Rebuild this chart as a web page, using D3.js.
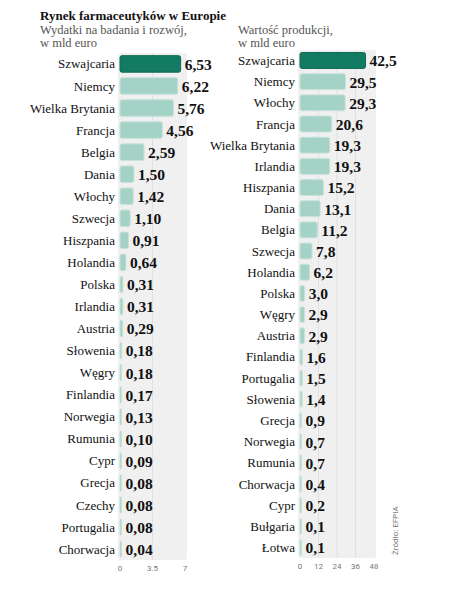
<!DOCTYPE html>
<html><head><meta charset="utf-8">
<script src="https://cdn.jsdelivr.net/npm/d3@7"></script>
<style>body{margin:0;background:#fff}</style>
</head><body><svg id="c" width="450" height="600"></svg>
<script>
const leftNames = ["Szwajcaria","Niemcy","Wielka Brytania","Francja","Belgia","Dania","Włochy","Szwecja","Hiszpania","Holandia","Polska","Irlandia","Austria","Słowenia","Węgry","Finlandia","Norwegia","Rumunia","Cypr","Grecja","Czechy","Portugalia","Chorwacja"];
const leftValues = [6.53,6.22,5.76,4.56,2.59,1.50,1.42,1.10,0.91,0.64,0.31,0.31,0.29,0.18,0.18,0.17,0.13,0.10,0.09,0.08,0.08,0.08,0.04];
const leftTicks = [0,3.5,7];
const rightNames = ["Szwajcaria","Niemcy","Włochy","Francja","Wielka Brytania","Irlandia","Hiszpania","Dania","Belgia","Szwecja","Holandia","Polska","Węgry","Austria","Finlandia","Portugalia","Słowenia","Grecja","Norwegia","Rumunia","Chorwacja","Cypr","Bułgaria","Łotwa"];
const rightValues = [42.5,29.5,29.3,20.6,19.3,19.3,15.2,13.1,11.2,7.8,6.2,3.0,2.9,2.9,1.6,1.5,1.4,0.9,0.7,0.7,0.4,0.2,0.1,0.1];
const rightTicks = [0,12,24,36,48];

const svg = d3.select("#c");
const fmt = (v, d) => v.toFixed(d).replace(".", ",");

svg.append("text").attr("x",40).attr("y",20).attr("font-family","Liberation Sans Narrow").attr("font-weight","bold")
  .attr("font-size",13).attr("fill","#111").text("Rynek farmaceutyków w Europie");

function panel(names, values, ticks, x0, x1, yTop, yBot, dec, sub) {
  const g = svg.append("g");
  const x = d3.scaleLinear().domain([0, ticks[ticks.length-1]]).range([x0, x1]);
  const y = d3.scaleBand().domain(names).range([yTop, yBot]).paddingInner(0.25).paddingOuter(0.12);
  g.append("rect").attr("x",x0-2).attr("y",yTop).attr("width",x1-x0+4).attr("height",yBot-yTop)
    .attr("rx",3).attr("fill","#f0f0f0");
  ticks.slice(1,-1).forEach(t => g.append("line").attr("x1",x(t)).attr("x2",x(t))
    .attr("y1",yTop).attr("y2",yBot).attr("stroke","#e0e0e0"));
  g.selectAll("rect.bar").data(names).join("rect").attr("class","bar")
    .attr("x",x0).attr("y",d=>y(d)).attr("height",y.bandwidth())
    .attr("width",(d,i)=>Math.max(1.5,x(values[i])-x0)).attr("rx",2)
    .attr("fill",(d,i)=>i===0?"#137a63":"#a5d2c6").attr("stroke",(d,i)=>i===0?"#0e6a55":"#c7e2da");
  g.selectAll("text.lab").data(names).join("text").attr("class","lab")
    .attr("x",x0-5).attr("y",d=>y(d)+y.bandwidth()/2).attr("dy","0.35em").attr("text-anchor","end")
    .attr("font-family","Liberation Sans Narrow").attr("font-size",13).attr("fill","#111").text(d=>d);
  g.selectAll("text.val").data(names).join("text").attr("class","val")
    .attr("x",(d,i)=>Math.max(x0+1.5,x(values[i]))+4).attr("y",d=>y(d)+y.bandwidth()/2).attr("dy","0.38em")
    .attr("font-family","Liberation Sans Narrow").attr("font-weight","bold").attr("font-size",15.5).attr("fill","#111")
    .text((d,i)=>fmt(values[i],dec));
  g.selectAll("text.tick").data(ticks).join("text").attr("class","tick")
    .attr("x",d=>x(d)).attr("y",yBot+11).attr("text-anchor","middle")
    .attr("font-family","Roboto").attr("font-size",8).attr("fill","#777").text(d=>String(d));
  sub.forEach((s,i)=>svg.append("text").attr("x",sub.x).attr("y",34+i*13)
    .attr("font-family","Liberation Sans Narrow").attr("font-size",12.5).attr("fill","#555").text(s));
}
const s1 = ["Wydatki na badania i rozwój,","w mld euro"]; s1.x = 40;
const s2 = ["Wartość produkcji,","w mld euro"]; s2.x = 238;
panel(leftNames, leftValues, leftTicks, 120, 185, 53, 560, 2, s1);
panel(rightNames, rightValues, rightTicks, 300, 374, 50, 558, 1, s2);

svg.append("text").attr("transform","translate(398,555) rotate(-90)")
  .attr("font-family","Roboto").attr("font-size",8).attr("fill","#777").text("Źródło: EFPIA");
</script></body></html>
